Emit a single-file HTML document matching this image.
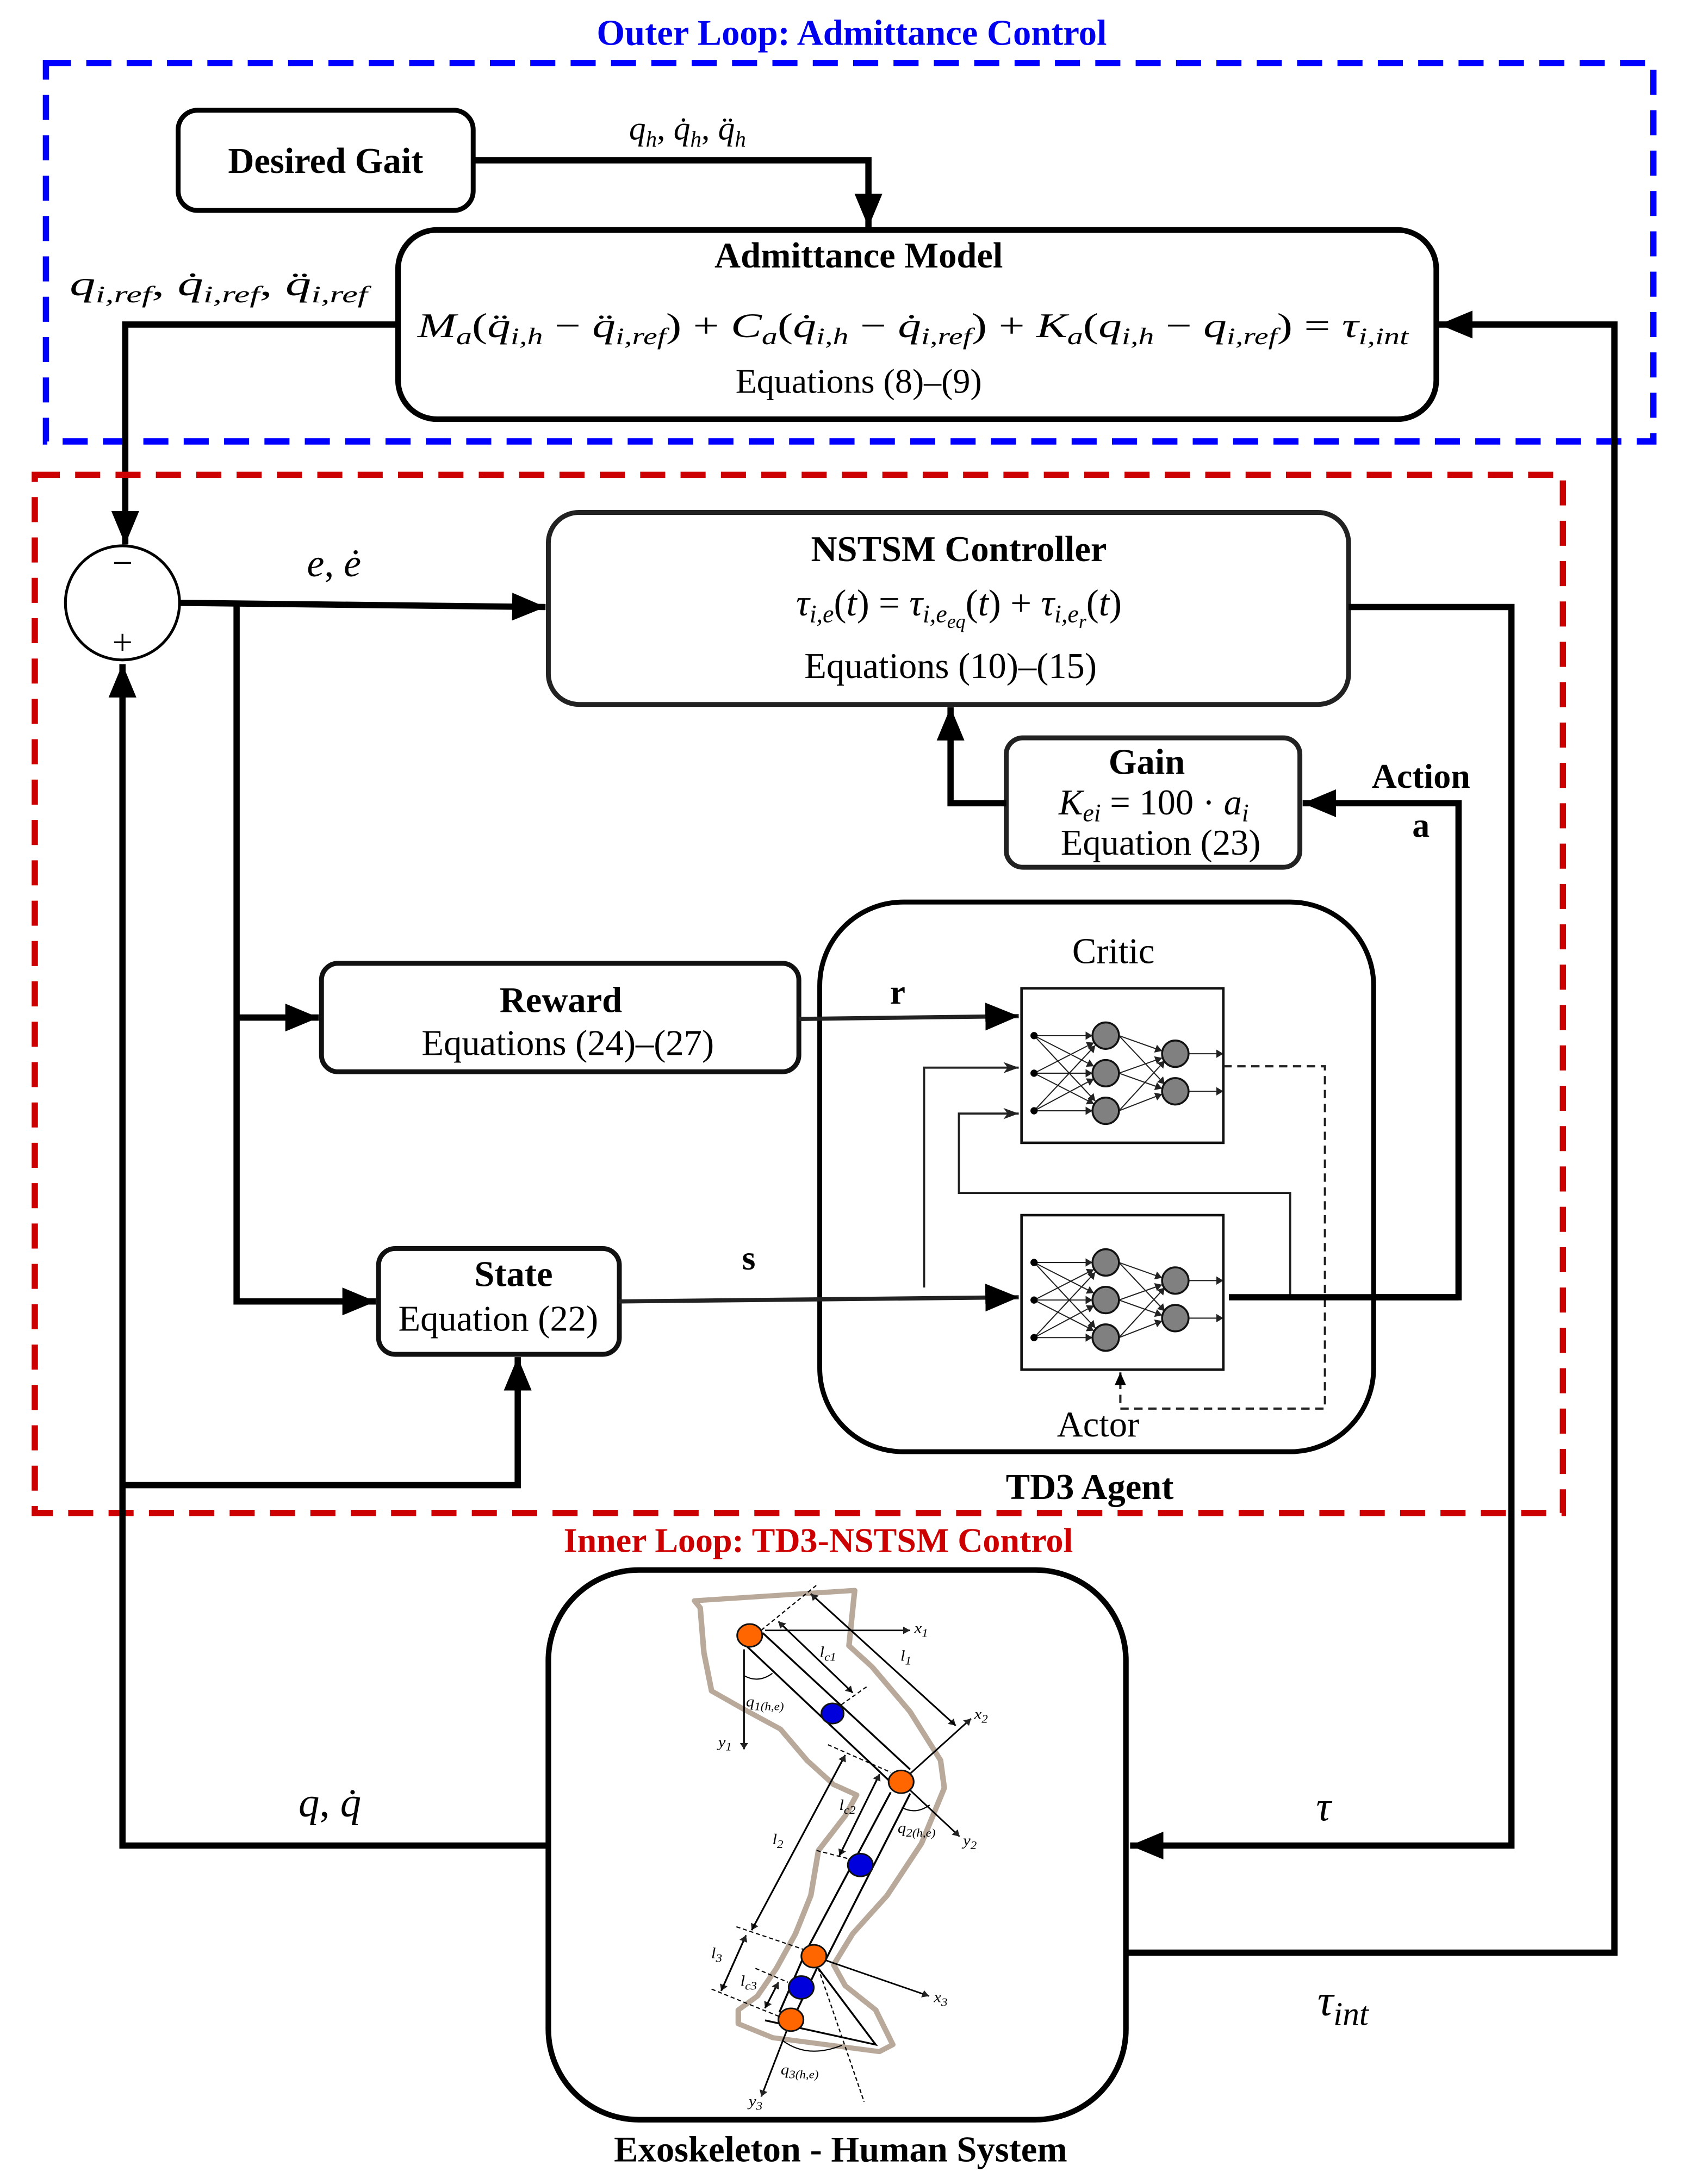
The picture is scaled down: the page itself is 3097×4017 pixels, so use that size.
<!DOCTYPE html>
<html><head><meta charset="utf-8"><style>
html,body{margin:0;padding:0;background:#fff;}
svg{display:block;font-family:"Liberation Serif","Times New Roman",serif;}
text{font-family:"Liberation Serif","Times New Roman",serif;fill:#000;}
.b{font-weight:bold;}
.i{font-style:italic;}
</style></head><body>
<svg width="3097" height="4017" viewBox="0 0 1210 1569" xmlns="http://www.w3.org/2000/svg" font-family="Liberation Serif, serif">
<defs>
<marker id="A" markerUnits="userSpaceOnUse" markerWidth="26" markerHeight="20" refX="24" refY="10" orient="auto"><path d="M0,0 L24,10 L0,20 z" fill="#000"/></marker>
<marker id="S" markerUnits="userSpaceOnUse" markerWidth="12" markerHeight="8" refX="11" refY="4" orient="auto"><path d="M0,0 L11,4 L0,8 L3,4 z" fill="#222"/></marker>
<marker id="T" markerUnits="userSpaceOnUse" markerWidth="6" markerHeight="6" refX="5" refY="3" orient="auto"><path d="M0,0 L5,3 L0,6 z" fill="#222"/></marker>
<marker id="E" markerUnits="userSpaceOnUse" markerWidth="10" markerHeight="8" refX="9" refY="4" orient="auto"><path d="M0,0 L9,4 L0,8 z" fill="#000"/></marker>
<g id="nn">
<g stroke="#222" stroke-width="0.8" marker-end="url(#T)">
<line x1="743" y1="744" x2="785" y2="744"/><line x1="743" y1="744" x2="786" y2="766"/><line x1="743" y1="744" x2="787" y2="791"/>
<line x1="743" y1="771" x2="786" y2="749"/><line x1="743" y1="771" x2="785" y2="771"/><line x1="743" y1="771" x2="786" y2="793"/>
<line x1="743" y1="798" x2="787" y2="751"/><line x1="743" y1="798" x2="786" y2="775"/><line x1="743" y1="798" x2="785" y2="798"/>
<line x1="804" y1="744" x2="835" y2="755"/><line x1="804" y1="744" x2="837" y2="779"/>
<line x1="804" y1="771" x2="835" y2="760"/><line x1="804" y1="771" x2="835" y2="782"/>
<line x1="804" y1="798" x2="837" y2="762"/><line x1="804" y1="798" x2="835" y2="786"/>
<line x1="854" y1="757" x2="879" y2="757"/><line x1="854" y1="784" x2="879" y2="784"/>
</g>
<g fill="#000"><circle cx="743" cy="744" r="2.6"/><circle cx="743" cy="771" r="2.6"/><circle cx="743" cy="798" r="2.6"/></g>
<g fill="#808080" stroke="#111" stroke-width="1.4">
<circle cx="794.5" cy="744" r="9.5"/><circle cx="794.5" cy="771" r="9.5"/><circle cx="794.5" cy="798" r="9.5"/>
<circle cx="844.5" cy="757" r="9.5"/><circle cx="844.5" cy="784" r="9.5"/>
</g>
<rect x="734" y="710" width="145" height="111" fill="none" stroke="#111" stroke-width="1.8"/>
</g>
</defs>

<!-- Outer loop -->
<text x="612" y="32" font-size="26" class="b" text-anchor="middle" style="fill:#0000ee">Outer Loop: Admittance Control</text>
<rect x="33" y="45" width="1155" height="272" fill="none" stroke="#0000ff" stroke-width="4.5" stroke-dasharray="18 11"/>

<rect x="128" y="79" width="212" height="72" rx="14" fill="#fff" stroke="#000" stroke-width="3.5"/>
<text x="234" y="124" font-size="26" class="b" text-anchor="middle">Desired Gait</text>
<path d="M340,115 H624 V163" fill="none" stroke="#000" stroke-width="4.5" marker-end="url(#A)"/>
<text x="494" y="100" font-size="24" text-anchor="middle" class="i">q<tspan dy="5" font-size="16">h</tspan><tspan dy="-5" font-style="normal">, </tspan>q̇<tspan dy="5" font-size="16">h</tspan><tspan dy="-5" font-style="normal">, </tspan>q̈<tspan dy="5" font-size="16">h</tspan></text>

<rect x="286" y="165" width="746" height="136" rx="28" fill="#fff" stroke="#000" stroke-width="4"/>
<text x="617" y="192" font-size="26" class="b" text-anchor="middle">Admittance Model</text>
<text x="300" y="242" font-size="25" textLength="712" lengthAdjust="spacingAndGlyphs"><tspan class="i">M</tspan><tspan class="i" dy="5" font-size="17">a</tspan><tspan dy="-5">(</tspan><tspan class="i">q̈</tspan><tspan class="i" dy="5" font-size="17">i,h</tspan><tspan dy="-5"> − </tspan><tspan class="i">q̈</tspan><tspan class="i" dy="5" font-size="17">i,ref</tspan><tspan dy="-5">) + </tspan><tspan class="i">C</tspan><tspan class="i" dy="5" font-size="17">a</tspan><tspan dy="-5">(</tspan><tspan class="i">q̇</tspan><tspan class="i" dy="5" font-size="17">i,h</tspan><tspan dy="-5"> − </tspan><tspan class="i">q̇</tspan><tspan class="i" dy="5" font-size="17">i,ref</tspan><tspan dy="-5">) + </tspan><tspan class="i">K</tspan><tspan class="i" dy="5" font-size="17">a</tspan><tspan dy="-5">(</tspan><tspan class="i">q</tspan><tspan class="i" dy="5" font-size="17">i,h</tspan><tspan dy="-5"> − </tspan><tspan class="i">q</tspan><tspan class="i" dy="5" font-size="17">i,ref</tspan><tspan dy="-5">) = </tspan><tspan class="i">τ</tspan><tspan class="i" dy="5" font-size="17">i,int</tspan></text>
<text x="617" y="282" font-size="25" text-anchor="middle">Equations (8)–(9)</text>

<text x="50" y="212" font-size="25" class="i" textLength="214" lengthAdjust="spacingAndGlyphs">q<tspan dy="5" font-size="17">i,ref</tspan><tspan dy="-5" font-style="normal">, </tspan>q̇<tspan dy="5" font-size="17">i,ref</tspan><tspan dy="-5" font-style="normal">, </tspan>q̈<tspan dy="5" font-size="17">i,ref</tspan></text>
<path d="M286,233 H90 V391" fill="none" stroke="#000" stroke-width="4.5" marker-end="url(#A)"/>

<!-- Inner loop -->
<rect x="25" y="341" width="1098" height="746" fill="none" stroke="#cc0000" stroke-width="4.5" stroke-dasharray="18 11"/>
<text x="588" y="1115" font-size="25" class="b" text-anchor="middle" style="fill:#cc0000">Inner Loop: TD3-NSTSM Control</text>

<ellipse cx="88" cy="433" rx="41" ry="41" fill="#fff" stroke="#000" stroke-width="2"/>
<text x="88" y="413" font-size="26" text-anchor="middle">−</text>
<text x="88" y="470" font-size="26" text-anchor="middle">+</text>
<text x="240" y="414" font-size="28" class="i" text-anchor="middle">e<tspan font-style="normal">, </tspan>ė</text>
<path d="M129,433 L392,436" fill="none" stroke="#000" stroke-width="4.5" marker-end="url(#A)"/>

<rect x="394" y="368" width="575" height="138" rx="22" fill="#fff" stroke="#222" stroke-width="3.5"/>
<text x="689" y="403" font-size="26" class="b" text-anchor="middle">NSTSM Controller</text>
<text x="689" y="442" font-size="27" text-anchor="middle"><tspan class="i">τ</tspan><tspan class="i" dy="5" font-size="18">i,e</tspan><tspan dy="-5">(</tspan><tspan class="i">t</tspan><tspan>) = </tspan><tspan class="i">τ</tspan><tspan class="i" dy="5" font-size="18">i,e</tspan><tspan class="i" dy="4" font-size="14">eq</tspan><tspan dy="-9">(</tspan><tspan class="i">t</tspan><tspan>) + </tspan><tspan class="i">τ</tspan><tspan class="i" dy="5" font-size="18">i,e</tspan><tspan class="i" dy="4" font-size="14">r</tspan><tspan dy="-9">(</tspan><tspan class="i">t</tspan><tspan>)</tspan></text>
<text x="683" y="487" font-size="26" text-anchor="middle">Equations (10)–(15)</text>

<path d="M969,436 H1086 V1326 H812" fill="none" stroke="#000" stroke-width="4.5" marker-end="url(#A)"/>
<text x="951" y="1308" font-size="30" class="i" text-anchor="middle">τ</text>

<rect x="723" y="530" width="211" height="93" rx="12" fill="#fff" stroke="#222" stroke-width="3.5"/>
<text x="824" y="556" font-size="26" class="b" text-anchor="middle">Gain</text>
<text x="829" y="585" font-size="26" text-anchor="middle"><tspan class="i">K</tspan><tspan class="i" dy="5" font-size="18">ei</tspan><tspan dy="-5"> = 100 · </tspan><tspan class="i">a</tspan><tspan class="i" dy="5" font-size="18">i</tspan></text>
<text x="834" y="614" font-size="26" text-anchor="middle">Equation (23)</text>
<path d="M723,577 H683 V508" fill="none" stroke="#000" stroke-width="4.5" marker-end="url(#A)"/>

<path d="M883,932 H1048 V577 H936" fill="none" stroke="#000" stroke-width="4.5" marker-end="url(#A)"/>
<text x="1021" y="566" font-size="25" class="b" text-anchor="middle">Action</text>
<text x="1021" y="601" font-size="25" class="b" text-anchor="middle">a</text>

<path d="M170,433 V935 H270" fill="none" stroke="#000" stroke-width="4.5" marker-end="url(#A)"/>
<path d="M170,731 H229" fill="none" stroke="#000" stroke-width="4.5" marker-end="url(#A)"/>

<!-- TD3 agent (drawn before r/s arrows) -->
<rect x="589" y="648" width="398" height="395" rx="60" fill="#fff" stroke="#000" stroke-width="3.5"/>
<text x="800" y="692" font-size="26" text-anchor="middle">Critic</text>
<text x="789" y="1032" font-size="26" text-anchor="middle">Actor</text>
<text x="783" y="1077" font-size="26" class="b" text-anchor="middle">TD3 Agent</text>
<use href="#nn"/>
<use href="#nn" transform="translate(0,163)"/>
<path d="M664,925 V767 H732" fill="none" stroke="#222" stroke-width="1.5" marker-end="url(#S)"/>
<path d="M927,932 V857 H689 V800 H732" fill="none" stroke="#222" stroke-width="1.5" marker-end="url(#S)"/>
<path d="M879,766 H952 V1012 H805 V986" fill="none" stroke="#222" stroke-width="1.6" stroke-dasharray="6 4" marker-end="url(#E)"/>
<path d="M883,932 H1048" fill="none" stroke="#000" stroke-width="4.5"/>

<rect x="231" y="692" width="343" height="78" rx="12" fill="#fff" stroke="#111" stroke-width="3.5"/>
<text x="403" y="727" font-size="26" class="b" text-anchor="middle">Reward</text>
<text x="408" y="758" font-size="26" text-anchor="middle">Equations (24)–(27)</text>
<path d="M574,732 L732,730" fill="none" stroke="#222" stroke-width="3" marker-end="url(#A)"/>
<text x="645" y="721" font-size="25" class="b" text-anchor="middle">r</text>

<rect x="272" y="897" width="173" height="76" rx="12" fill="#fff" stroke="#111" stroke-width="3.5"/>
<text x="369" y="924" font-size="26" class="b" text-anchor="middle">State</text>
<text x="358" y="956" font-size="26" text-anchor="middle">Equation (22)</text>
<path d="M445,935 L732,932" fill="none" stroke="#222" stroke-width="3" marker-end="url(#A)"/>
<text x="538" y="912" font-size="25" class="b" text-anchor="middle">s</text>

<path d="M394,1326 H88 V477" fill="none" stroke="#000" stroke-width="4.5" marker-end="url(#A)"/>
<path d="M88,1067 H372 V975" fill="none" stroke="#000" stroke-width="4.5" marker-end="url(#A)"/>
<text x="237" y="1305" font-size="30" class="i" text-anchor="middle">q<tspan font-style="normal">, </tspan>q̇</text>

<!-- Exo -->
<rect x="394" y="1128" width="415" height="395" rx="65" fill="#fff" stroke="#000" stroke-width="4"/>
<text x="604" y="1553" font-size="26" class="b" text-anchor="middle">Exoskeleton - Human System</text>
<path d="M809,1403 H1160 V233 H1034" fill="none" stroke="#000" stroke-width="4.5" marker-end="url(#A)"/>
<text x="965" y="1448" font-size="32" class="i" text-anchor="middle">τ<tspan dy="7" font-size="24">int</tspan></text>

<g transform="translate(0,1125.2) scale(1,0.909) translate(0,-1125.2)">
<path d="M499,1152.6 L614.1,1144.4 L610,1188.2 L626.5,1204.7 L653.9,1240.3 L675.8,1278.7 L678.5,1300.6 L662.1,1344.5 L637.4,1385.6 L612.7,1415.8 L599,1440.4 L607.3,1456.9 L629.2,1476.1 L641.5,1503.5 L631.9,1509 L555.2,1498 L530.5,1487 L530.5,1476.1 L544.2,1465.1 L557.9,1443.2 L571.6,1415.8 L582.6,1385.6 L588.1,1350 L607.3,1322.6 L615.5,1306.1 L599,1297.9 L579.8,1278.7 L560.7,1254 L533.2,1237.6 L511.3,1223.9 L505.8,1193.7 L503.1,1158.1 Z" fill="none" stroke="#b9a99b" stroke-width="4" stroke-linejoin="round"/>
<g stroke="#000" stroke-width="1.4" fill="none">
<line x1="548" y1="1178" x2="654" y2="1286"/>
<line x1="536" y1="1188" x2="640" y2="1296"/>
<line x1="640" y1="1304" x2="579" y2="1430"/>
<line x1="654" y1="1305" x2="593" y2="1437"/>
<line x1="579" y1="1430" x2="560" y2="1478"/>
<line x1="590" y1="1436" x2="572" y2="1478"/>
<path d="M549.7,1484.3 L629.2,1503.5 L588,1443.2"/>
</g>
<g stroke="#000" stroke-width="1.2" fill="none" marker-end="url(#T)">
<line x1="549.7" y1="1176" x2="653.9" y2="1176"/>
<line x1="534.6" y1="1191" x2="534.6" y2="1270"/>
<line x1="647.5" y1="1295.7" x2="697.7" y2="1245.8"/>
<line x1="647.5" y1="1295.7" x2="689.5" y2="1339"/>
<line x1="584.8" y1="1433.6" x2="667.6" y2="1465.1"/>
<line x1="568.3" y1="1483.8" x2="547" y2="1544.6"/>
<line x1="582.6" y1="1147.1" x2="686.7" y2="1251.3"/><line x1="686.7" y1="1251.3" x2="582.6" y2="1147.1"/>
<line x1="559.3" y1="1169" x2="612.7" y2="1225.3"/><line x1="612.7" y1="1225.3" x2="559.3" y2="1169"/>
<line x1="607.3" y1="1274.6" x2="540.1" y2="1413"/><line x1="540.1" y1="1413" x2="607.3" y2="1274.6"/>
<line x1="632" y1="1289.7" x2="603.1" y2="1354.1"/><line x1="603.1" y1="1354.1" x2="632" y2="1289.7"/>
<line x1="536" y1="1417.1" x2="518.2" y2="1461"/><line x1="518.2" y1="1461" x2="536" y2="1417.1"/>
<line x1="559.3" y1="1454.2" x2="549.7" y2="1474.7"/><line x1="549.7" y1="1474.7" x2="559.3" y2="1454.2"/>
</g>
<g stroke="#000" stroke-width="0.9" stroke-dasharray="3 2" fill="none">
<line x1="547" y1="1175.9" x2="586.7" y2="1140.3"/>
<line x1="604.5" y1="1234.8" x2="623.7" y2="1219.8"/>
<line x1="594.9" y1="1266.4" x2="640.2" y2="1288.3"/>
<line x1="586.7" y1="1350" x2="615.5" y2="1358.2"/>
<line x1="529.1" y1="1410.3" x2="577.1" y2="1428.1"/>
<line x1="511.3" y1="1459.6" x2="560.7" y2="1481.6"/>
<line x1="542.8" y1="1443.2" x2="566.2" y2="1454.2"/>
<line x1="588" y1="1443.2" x2="620.9" y2="1548.7"/>
</g>
<g stroke="#000" stroke-width="0.9" fill="none">
<path d="M535,1212 Q545,1218 555,1210"/>
<path d="M648,1316 Q658,1322 668,1314"/>
<path d="M562,1500 Q580,1515 605,1504"/>
</g>
<g stroke="#111" stroke-width="1.2">
<circle cx="538.7" cy="1180" r="9" fill="#ff6600"/>
<circle cx="647.5" cy="1295.7" r="9" fill="#ff6600"/>
<circle cx="584.8" cy="1433.6" r="9" fill="#ff6600"/>
<circle cx="568.3" cy="1483.8" r="9" fill="#ff6600"/>
<circle cx="598.2" cy="1241.7" r="8" fill="#0000dd"/>
<circle cx="618.2" cy="1361.5" r="9" fill="#0000dd"/>
<circle cx="575.7" cy="1458.3" r="9" fill="#0000dd"/>
</g>
<g font-size="12" style="font-style:italic">
<text x="657" y="1178">x<tspan dy="3" font-size="9">1</tspan></text>
<text x="516" y="1268">y<tspan dy="3" font-size="9">1</tspan></text>
<text x="700" y="1246">x<tspan dy="3" font-size="9">2</tspan></text>
<text x="692" y="1346">y<tspan dy="3" font-size="9">2</tspan></text>
<text x="671" y="1470">x<tspan dy="3" font-size="9">3</tspan></text>
<text x="538" y="1552">y<tspan dy="3" font-size="9">3</tspan></text>
<text x="647" y="1200">l<tspan dy="3" font-size="9">1</tspan></text>
<text x="589" y="1197">l<tspan dy="3" font-size="9">c1</tspan></text>
<text x="555" y="1345">l<tspan dy="3" font-size="9">2</tspan></text>
<text x="603" y="1318">l<tspan dy="3" font-size="9">c2</tspan></text>
<text x="511" y="1435">l<tspan dy="3" font-size="9">3</tspan></text>
<text x="532" y="1457">l<tspan dy="3" font-size="9">c3</tspan></text>
<text x="536" y="1236">q<tspan dy="3" font-size="9">1(h,e)</tspan></text>
<text x="645" y="1336">q<tspan dy="3" font-size="9">2(h,e)</tspan></text>
<text x="561" y="1527">q<tspan dy="3" font-size="9">3(h,e)</tspan></text>
</g>
</g>
</svg>
</body></html>
